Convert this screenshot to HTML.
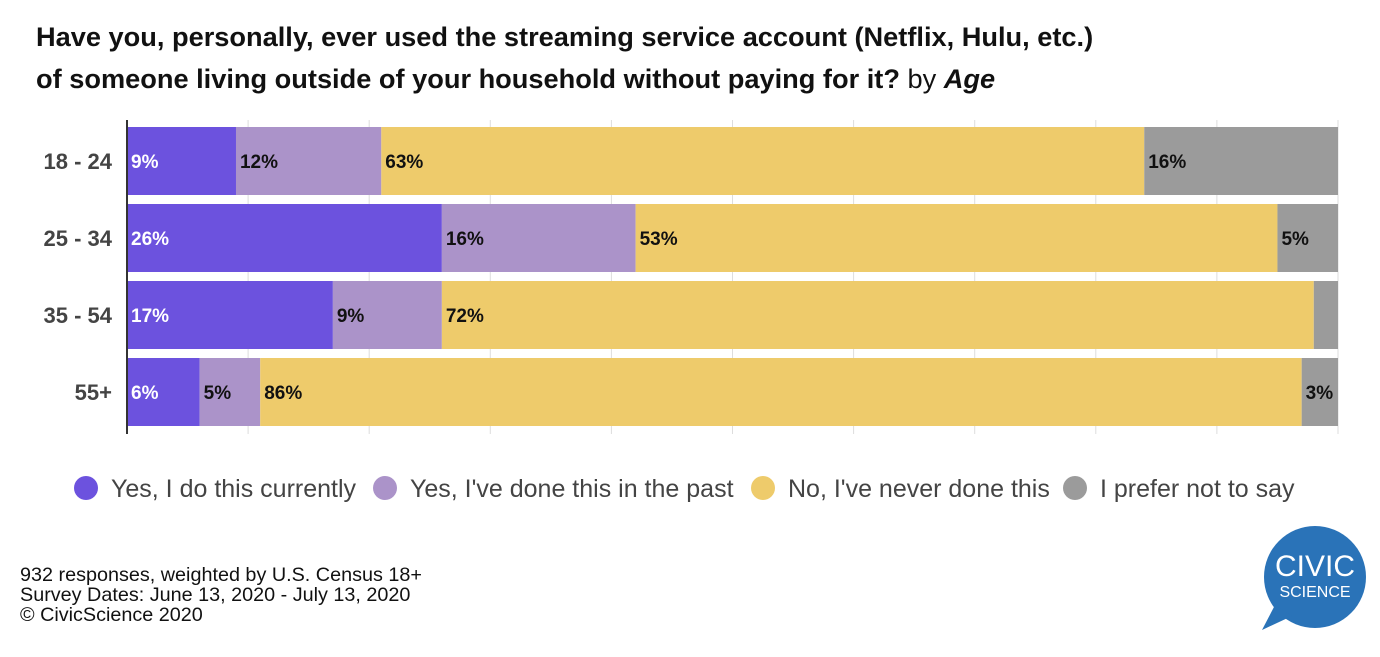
<!DOCTYPE html>
<html><head><meta charset="utf-8"><style>
body{margin:0;width:1380px;height:652px;background:#fff;font-family:"Liberation Sans",Arial,sans-serif;overflow:hidden}
</style></head><body>
<svg id="chart" width="1380" height="652">
<text x="36" y="46" font-size="27.2" font-weight="bold" fill="#111">Have you, personally, ever used the streaming service account (Netflix, Hulu, etc.)</text>
<text x="36" y="88" font-size="27.2" font-weight="bold" fill="#111">of someone living outside of your household without paying for it? <tspan font-weight="normal">by </tspan><tspan font-style="italic">Age</tspan></text>
<g id="grid"></g><g id="bars"></g><g id="cats"></g>
<line x1="127" y1="120" x2="127" y2="434" stroke="#333" stroke-width="2"/>
<g id="legend"></g>
<text font-size="19.8" fill="#111"><tspan x="20" y="581">932 responses, weighted by U.S. Census 18+</tspan><tspan x="20" y="601">Survey Dates: June 13, 2020 - July 13, 2020</tspan><tspan x="20" y="621">© CivicScience 2020</tspan></text>
<g>
<circle cx="1315" cy="577" r="51" fill="#2a73b8"/>
<path d="M1275,605 L1262,630 L1292,616 Z" fill="#2a73b8"/>
<text x="1315" y="576" text-anchor="middle" font-size="30" fill="#fff">CIVIC</text>
<text x="1315" y="597" text-anchor="middle" font-size="16" fill="#fff">SCIENCE</text>
</g>
</svg>
<script>
const categories=["18 - 24","25 - 34","35 - 54","55+"];
const seriesNames=["Yes, I do this currently","Yes, I've done this in the past","No, I've never done this","I prefer not to say"];
const yesCurrently=[9,26,17,6];
const yesPast=[12,16,9,5];
const neverDone=[63,53,72,86];
const preferNot=[16,5,2,3];
const showLabel=[[1,1,1,1],[1,1,1,1],[1,1,1,0],[1,1,1,1]];
const colors=["#6c52de","#ab93c9","#eecb6b","#9b9b9b"];
const textColors=["#fff","#111","#111","#111"];
const ns="http://www.w3.org/2000/svg";
const x0=127,x1=1338,rowTop=127,rowStep=77,barH=68;
const xs=v=>x0+(x1-x0)*v/100;
const mk=(t,a,p)=>{const e=document.createElementNS(ns,t);for(const k in a)e.setAttribute(k,a[k]);p.appendChild(e);return e;};
const grid=document.getElementById('grid');
for(let i=1;i<=10;i++){const l=mk('line',{x1:xs(i*10),x2:xs(i*10),y1:120,y2:434,stroke:'#ddd','stroke-width':1},grid);

}
const series=[yesCurrently,yesPast,neverDone,preferNot];
const bars=document.getElementById('bars'),cats=document.getElementById('cats');
categories.forEach((c,i)=>{
 const y=rowTop+i*rowStep;let acc=0;
 const t=mk('text',{x:112,y:y+barH/2+8,'text-anchor':'end','font-size':22,'font-weight':'bold',fill:'#444'},cats);t.textContent=c;
 
 
 series.forEach((s,j)=>{
  const v=s[i];const a=xs(acc);acc+=v;const b=j==3?x1:xs(acc);
  const r=mk('rect',{x:a,y:y,width:Math.max(0,b-a),height:barH,fill:colors[j]},bars);
  
  
  if(showLabel[i][j]){const tl=mk('text',{x:a+4,y:y+barH/2+7,'font-size':19,'font-weight':'bold',fill:textColors[j]},bars);tl.textContent=v+'%';
  
  }
 });
});
const lg=document.getElementById('legend');
const lx=[86,385,763,1075];
seriesNames.forEach((n,j)=>{
 const g=mk('g',{},lg);
 
 
 mk('circle',{cx:lx[j],cy:488,r:12,fill:colors[j]},g);
 const t=mk('text',{x:lx[j]+25,y:497,'font-size':25,fill:'#444'},g);t.textContent=n;
});
</script>
</body></html>
